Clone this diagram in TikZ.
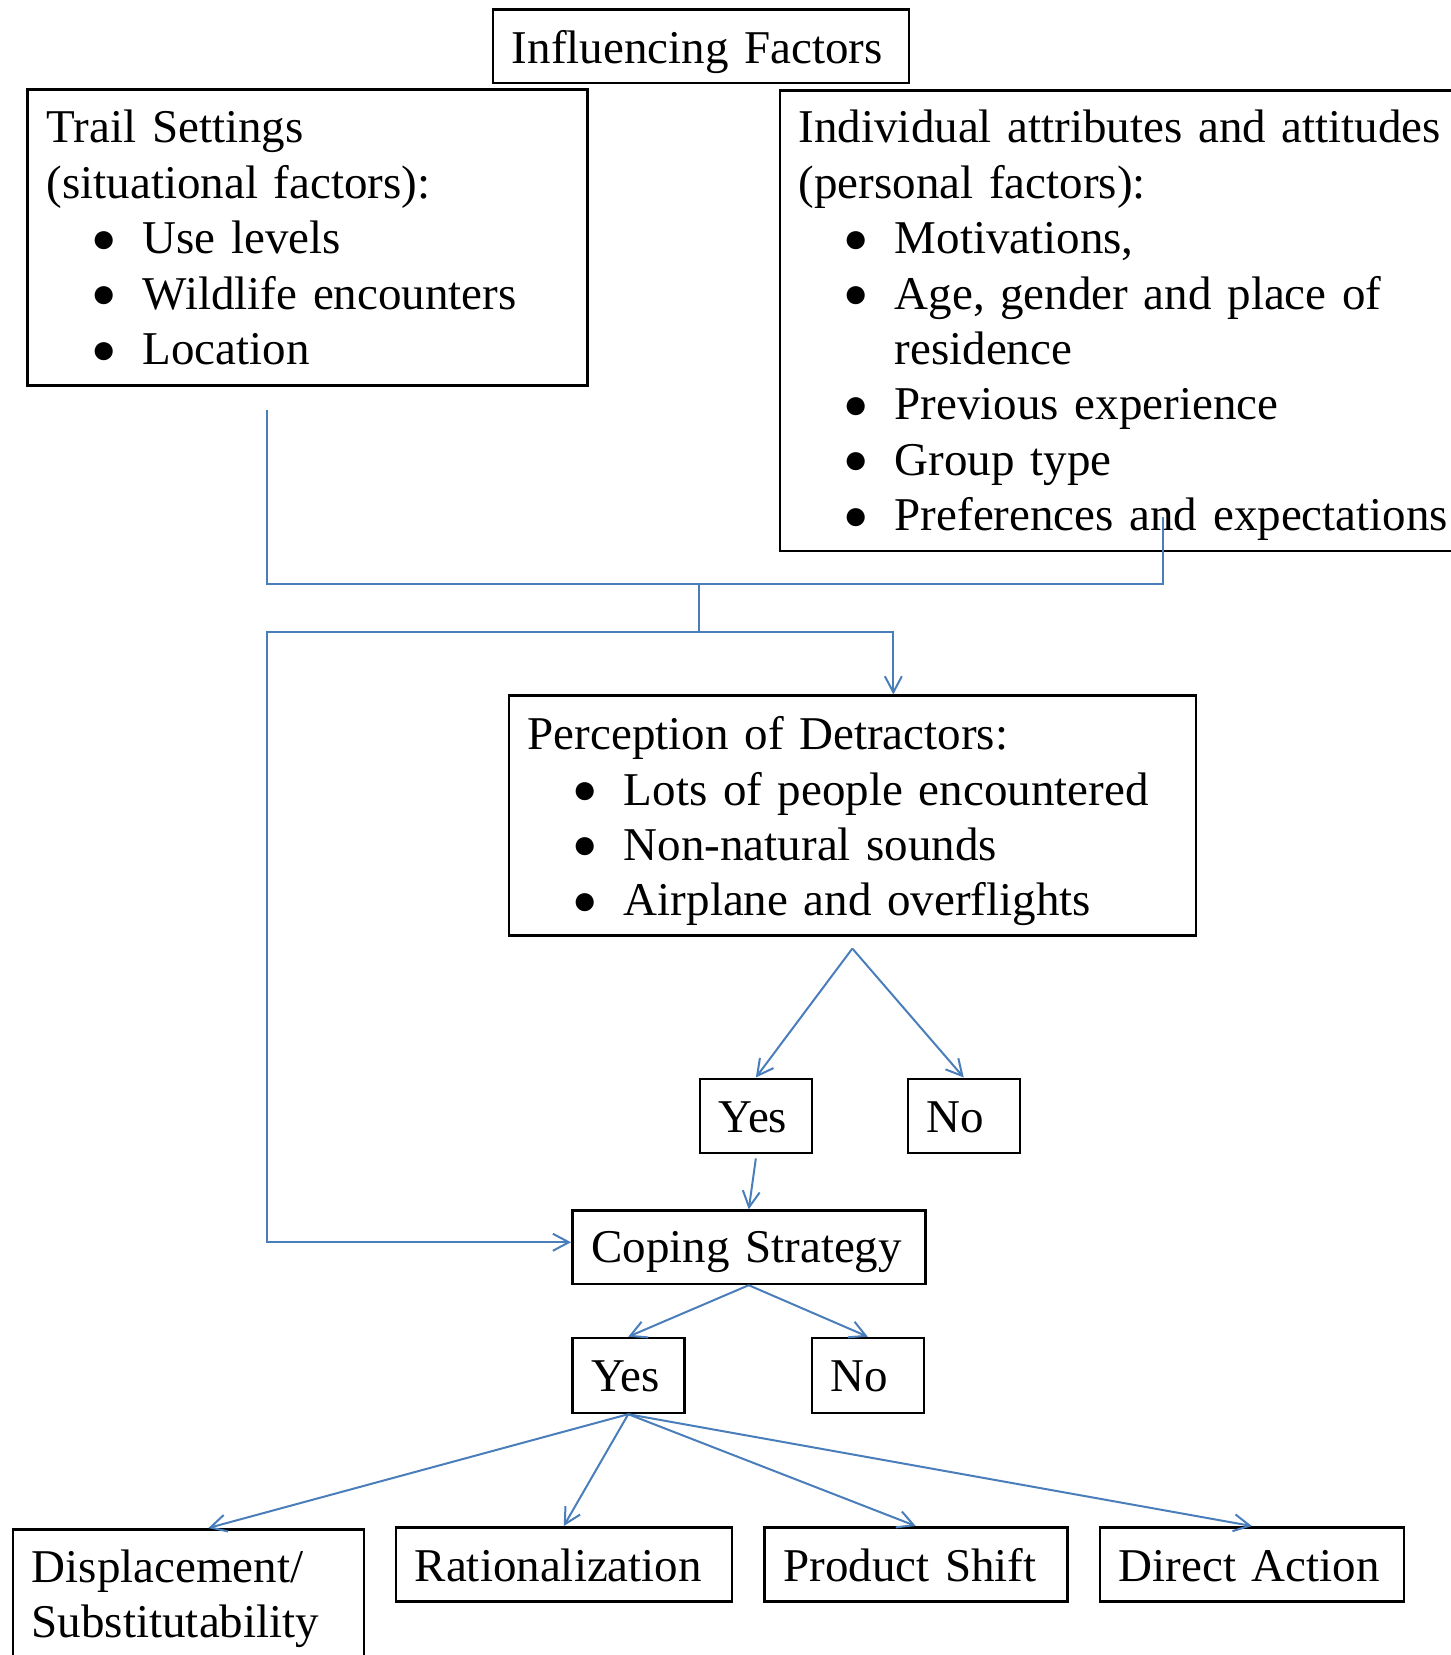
\documentclass[tikz,border=0pt]{standalone}
\usepackage{fontspec}
\setmainfont{Liberation Serif}
\usetikzlibrary{arrows.meta, positioning}
\definecolor{lnblue}{HTML}{4A7EBB}

% bullet lines inside the boxes
\newcommand{\bitem}[1]{\hspace*{45pt}\makebox[51pt][l]{\raisebox{1.5pt}{\fontsize{42}{44}\selectfont ●}}\mbox{#1}}
\newcommand{\bcont}[1]{\hspace*{96pt}\mbox{#1}}

\begin{document}
\begin{tikzpicture}[x=1pt, y=-1pt,
  >={Straight Barb[length=16pt, width=17pt]},
  box/.style={draw, line width=2.5pt, anchor=north west, align=left,
    inner xsep=19pt, inner ysep=0pt,
    font=\fontsize{47}{55.4}\selectfont},
  link/.style={lnblue, line width=2pt}]

% Canvas
\useasboundingbox (0,0) rectangle (1451,1655);

% Top row
\node[box, text width=378pt, text height=54pt, text depth=19.4pt] (infl) at (491.7,8.3)
  {\mbox{Influencing Factors}};
\node[box, text width=522pt, text height=53.4pt, text depth=242.4pt] (trail) at (26.4,88.3)
  {\mbox{Trail Settings}\\\mbox{(situational factors):}\\\bitem{Use levels}\\\bitem{Wildlife encounters}\\\bitem{Location}};
\node[box, text width=682pt, text height=52.4pt, text depth=408pt] (indiv) at (778.5,89.3)
  {\mbox{Individual attributes and attitudes}\\\mbox{(personal factors):}\\\bitem{Motivations,}\\\bitem{Age, gender and place of}\\\bcont{residence}\\\bitem{Previous experience}\\\bitem{Group type}\\\bitem{Preferences and expectations}};

% Middle
\node[box, text width=649pt, text height=54pt, text depth=185.6pt] (percep) at (507.6,694.4)
  {\mbox{Perception of Detractors:}\\\bitem{Lots of people encountered}\\\bitem{Non-natural sounds}\\\bitem{Airplane and overflights}};
\node[box, text width=74pt, text height=53.4pt, text depth=21pt] (yes) at (698.6,1077.5) {Yes};
\node[box, text width=74pt, text height=53.4pt, text depth=21pt] (no) at (906.5,1077.5) {No};
\node[box, text width=315pt, text height=52.4pt, text depth=21pt] (coping) at (571,1209.3) {\mbox{Coping Strategy}};
\node[box, text width=74pt, text height=53.3pt, text depth=21.7pt] (yestwo) at (571,1336.7) {Yes};
\node[box, text width=74pt, text height=53.3pt, text depth=21.7pt] (notwo) at (810.6,1336.7) {No};

% Bottom row
\node[box, text width=313pt, text height=53pt, text depth=200pt] (disp) at (11.6,1528)
  {\mbox{Displacement/}\\\mbox{Substitutability}};
\node[box, text width=298pt, text height=54pt, text depth=20pt] (rat) at (394.5,1526) {\mbox{Rationalization}};
\node[box, text width=265pt, text height=54pt, text depth=20pt] (prod) at (763,1526) {\mbox{Product Shift}};
\node[box, text width=266pt, text height=54pt, text depth=20pt] (direct) at (1098.6,1526) {\mbox{Direct Action}};

% Joining lines
\coordinate (trailout) at (267,409.5);
\coordinate (indout) at (1163,517);
\coordinate (merge) at (698.6,583.6);
\coordinate (split) at (698.6,632.1);
\coordinate (leftrail) at (267,632.1);

\draw[link] (trailout) |- (merge) -| (indout);
\draw[link] (merge) -- (split);
\draw[link, ->] (split) -| ([xshift=41pt]percep.north);
\draw[link, ->] (split) -- (leftrail) |- ([yshift=5pt]coping.west);

% Decisions
\draw[link, ->] ([yshift=-12pt]percep.south) -- (yes.north);
\draw[link, ->] ([yshift=-12pt]percep.south) -- (no.north);
\draw[link, ->] ([yshift=-4pt]yes.south) -- (coping.north);
\draw[link, ->] (coping.south) -- (yestwo.north);
\draw[link, ->] (coping.south) -- (notwo.north);

% Strategies
\draw[link, ->] (yestwo.south) -- ([xshift=20pt]disp.north);
\draw[link, ->] (yestwo.south) -- (rat.north);
\draw[link, ->] (yestwo.south) -- (prod.north);
\draw[link, ->] (yestwo.south) -- (direct.north);

\end{tikzpicture}
\end{document}
